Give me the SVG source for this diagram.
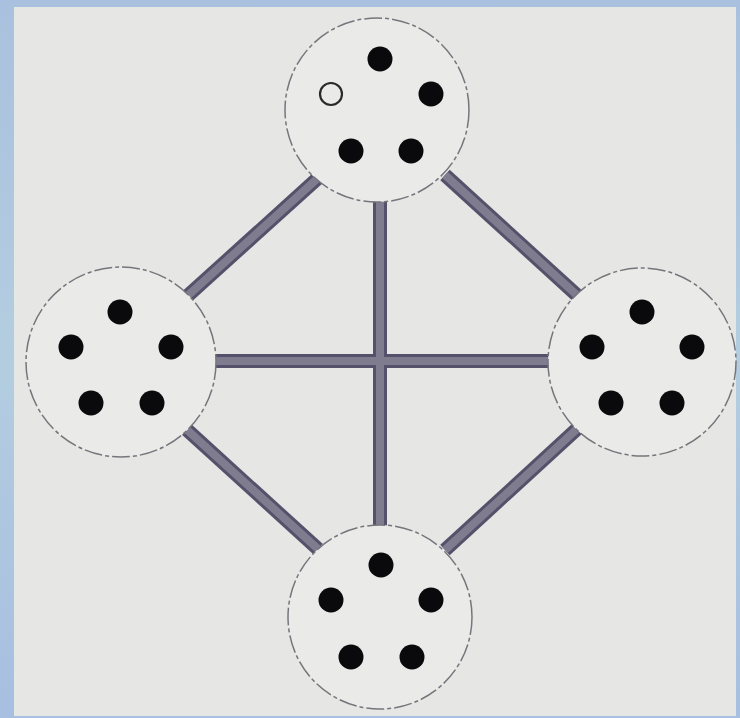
<svg xmlns="http://www.w3.org/2000/svg" width="740" height="718" viewBox="0 0 740 718">
<defs>
<linearGradient id="bg" x1="0" y1="0" x2="0" y2="1">
<stop offset="0" stop-color="#a9c1de"/>
<stop offset="0.5" stop-color="#b3cde0"/>
<stop offset="1" stop-color="#a7bfe0"/>
</linearGradient>
</defs>
<style>
.node{fill:#eaeae9;stroke:#77757c;stroke-width:1.5;stroke-dasharray:18 3 4 3}
.dot{fill:#0a0a0c}
.open{fill:none;stroke:#2a2a2c;stroke-width:2.2}
.barO{stroke:#55516a;stroke-width:14;stroke-linecap:butt}
.barI{stroke:#807c8f;stroke-width:8;stroke-linecap:butt}
</style>
<rect x="0" y="0" width="740" height="718" fill="url(#bg)"/>
<rect x="14" y="7" width="722" height="709" fill="#e6e6e4"/>
<g id="connectors">
<line class="barO" x1="215" y1="361" x2="550" y2="361"/>
<line class="barO" x1="380" y1="200" x2="380" y2="528"/>
<line class="barO" x1="318" y1="178" x2="183" y2="300"/>
<line class="barO" x1="445" y1="175" x2="580" y2="298"/>
<line class="barO" x1="185" y1="428" x2="318" y2="549"/>
<line class="barO" x1="578" y1="428" x2="445" y2="550"/>
<line class="barI" x1="380" y1="200" x2="380" y2="528"/>
<line class="barI" x1="215" y1="361" x2="550" y2="361"/>
<line class="barI" x1="318" y1="178" x2="183" y2="300"/>
<line class="barI" x1="445" y1="175" x2="580" y2="298"/>
<line class="barI" x1="185" y1="428" x2="318" y2="549"/>
<line class="barI" x1="578" y1="428" x2="445" y2="550"/>
</g>
<g id="node-top">
<circle class="node" cx="377" cy="110" r="92"/>
<circle class="dot" cx="380" cy="59" r="12.5"/>
<circle class="dot" cx="431" cy="94" r="12.5"/>
<circle class="open" cx="331" cy="94" r="11"/>
<circle class="dot" cx="351" cy="151" r="12.5"/>
<circle class="dot" cx="411" cy="151" r="12.5"/>
</g>
<g id="node-left">
<circle class="node" cx="121" cy="362" r="95"/>
<circle class="dot" cx="120" cy="312" r="12.5"/>
<circle class="dot" cx="71" cy="347" r="12.5"/>
<circle class="dot" cx="171" cy="347" r="12.5"/>
<circle class="dot" cx="91" cy="403" r="12.5"/>
<circle class="dot" cx="152" cy="403" r="12.5"/>
</g>
<g id="node-right">
<circle class="node" cx="642" cy="362" r="94"/>
<circle class="dot" cx="642" cy="312" r="12.5"/>
<circle class="dot" cx="592" cy="347" r="12.5"/>
<circle class="dot" cx="692" cy="347" r="12.5"/>
<circle class="dot" cx="611" cy="403" r="12.5"/>
<circle class="dot" cx="672" cy="403" r="12.5"/>
</g>
<g id="node-bottom">
<circle class="node" cx="380" cy="617" r="92"/>
<circle class="dot" cx="381" cy="565" r="12.5"/>
<circle class="dot" cx="331" cy="600" r="12.5"/>
<circle class="dot" cx="431" cy="600" r="12.5"/>
<circle class="dot" cx="351" cy="657" r="12.5"/>
<circle class="dot" cx="412" cy="657" r="12.5"/>
</g>
</svg>
